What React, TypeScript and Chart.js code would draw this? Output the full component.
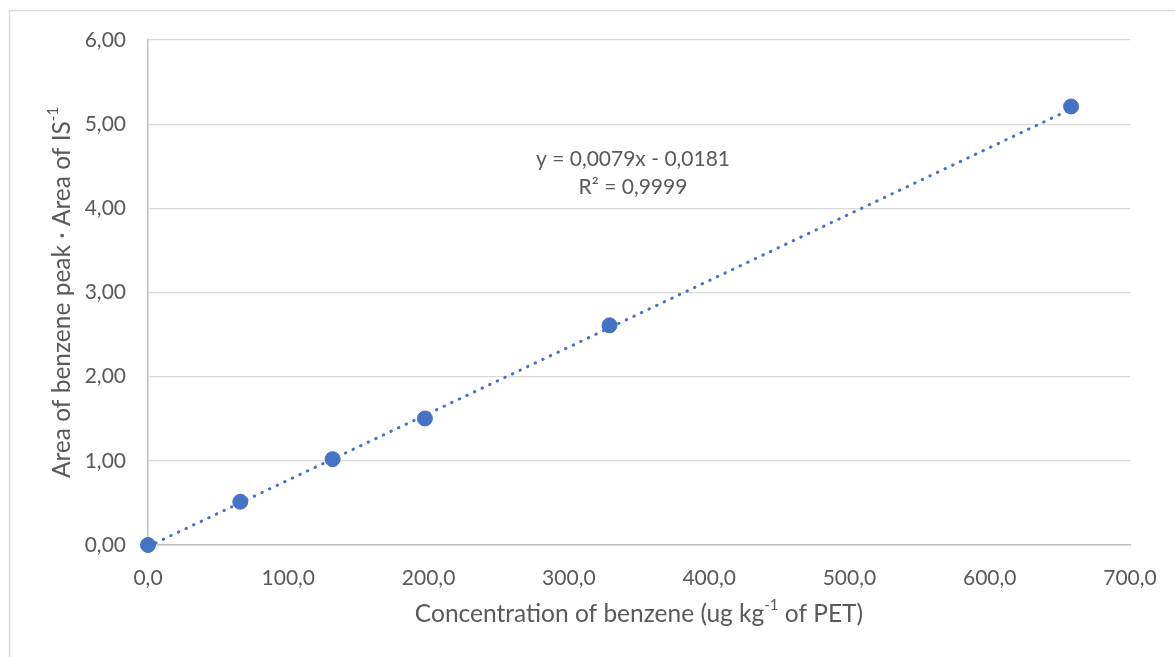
import React, { useEffect, useRef } from "react";
import { Chart, registerables } from "chart.js";

Chart.register(...registerables);

// Data
const concentrations = [0, 65.8, 131.6, 197.4, 329.0, 658.0];
const areaRatios = [0, 0.514, 1.02, 1.503, 2.61, 5.21];
const trendSlope = 0.0079;
const trendIntercept = -0.0181;
const trendRange = [0, 658.0];
const equationLines = ["y = 0,0079x - 0,0181", "R² = 0,9999"];
const xTitleMain = "Concentration of benzene (ug kg";
const xTitleSup = "-1";
const xTitleEnd = " of PET)";
const yTitleMain = "Area of benzene peak · Area of IS";
const yTitleSup = "-1";

const FONT = "Lato, 'Open Sans', sans-serif";
const TEXT = "#595959";
const BLUE = "#4472C4";

export default function App() {
  const ref = useRef<HTMLCanvasElement | null>(null);

  useEffect(() => {
    document.body.style.margin = "0";
    const canvas = ref.current!;
    const decor = {
      id: "decor",
      beforeDraw(chart: any) {
        const ctx = chart.ctx;
        ctx.save();
        ctx.strokeStyle = "#D9D9D9";
        ctx.lineWidth = 1.5;
        ctx.strokeRect(9.5, 10.5, 3000, 3000);
        ctx.restore();
      },
      afterDraw(chart: any) {
        const ctx = chart.ctx;
        const ca = chart.chartArea;
        ctx.save();
        ctx.fillStyle = TEXT;
        const size = 24.5;
        const supSize = 15;
        // X title
        ctx.font = `${size}px ${FONT}`;
        const w1 = ctx.measureText(xTitleMain).width;
        const w3 = ctx.measureText(xTitleEnd).width;
        ctx.font = `${supSize}px ${FONT}`;
        const w2 = ctx.measureText(xTitleSup).width;
        const total = w1 + w2 + w3;
        const cx = (ca.left + ca.right) / 2;
        let x = cx - total / 2;
        const y = 614;
        ctx.textBaseline = "middle";
        ctx.textAlign = "left";
        ctx.font = `${size}px ${FONT}`;
        ctx.fillText(xTitleMain, x, y);
        x += w1;
        ctx.font = `${supSize}px ${FONT}`;
        ctx.fillText(xTitleSup, x, y - 9);
        x += w2;
        ctx.font = `${size}px ${FONT}`;
        ctx.fillText(xTitleEnd, x, y);

        // Y title
        ctx.font = `${size}px ${FONT}`;
        const v1 = ctx.measureText(yTitleMain).width;
        ctx.font = `${supSize}px ${FONT}`;
        const v2 = ctx.measureText(yTitleSup).width;
        ctx.translate(62, (ca.top + ca.bottom) / 2);
        ctx.rotate(-Math.PI / 2);
        let yx = -(v1 + v2) / 2;
        ctx.font = `${size}px ${FONT}`;
        ctx.fillText(yTitleMain, yx, 0);
        yx += v1;
        ctx.font = `${supSize}px ${FONT}`;
        ctx.fillText(yTitleSup, yx, -9);
        ctx.restore();

        // Equation
        ctx.save();
        ctx.fillStyle = TEXT;
        ctx.font = `21px ${FONT}`;
        ctx.textAlign = "center";
        ctx.textBaseline = "middle";
        ctx.fillText(equationLines[0], 633, 159);
        ctx.fillText(equationLines[1], 633, 187);
        ctx.restore();
      },
    };

    const chart = new Chart(canvas, {
      type: "scatter",
      data: {
        datasets: [
          {
            type: "scatter",
            label: "Benzene",
            data: concentrations.map((c, i) => ({ x: c, y: areaRatios[i] })),
            backgroundColor: BLUE,
            borderColor: BLUE,
            pointRadius: 7.5,
            pointHoverRadius: 7.5,
            clip: false,
            order: 1,
          },
          {
            type: "line",
            label: "Trend",
            data: trendRange.map((c) => ({ x: c, y: trendSlope * c + trendIntercept })),
            borderColor: BLUE,
            borderWidth: 3,
            borderDash: [0.5, 7.9],
            borderCapStyle: "round",
            pointRadius: 0,
            fill: false,
            clip: false,
            order: 2,
          } as any,
        ],
      },
      plugins: [decor],
      options: {
        animation: false,
        responsive: false,
        maintainAspectRatio: false,
        layout: { padding: { top: 40, right: 45, left: 0, bottom: 0 } },
        plugins: { legend: { display: false }, tooltip: { enabled: false } },
        scales: {
          x: {
            type: "linear",
            min: 0,
            max: 700,
            afterFit: (s: any) => { s.height = 112; s.paddingRight = 0; s.paddingLeft = 0; },
            ticks: {
              stepSize: 100,
              padding: 21,
              color: TEXT,
              font: { family: FONT, size: 21 },
              callback: (v: any) => Number(v).toFixed(1).replace(".", ","),
            },
            grid: { display: false, drawTicks: false },
            border: { color: "#BFBFBF", width: 1.5 },
          },
          y: {
            type: "linear",
            min: 0,
            max: 6,
            afterFit: (s: any) => { s.width = 148; s.paddingTop = 0; s.paddingBottom = 0; },
            ticks: {
              stepSize: 1,
              padding: 22,
              color: TEXT,
              font: { family: FONT, size: 21 },
              callback: (v: any) => Number(v).toFixed(2).replace(".", ","),
            },
            grid: { color: "#D9D9D9", lineWidth: 1.3, drawTicks: false },
            border: { color: "#BFBFBF", width: 1.5 },
          },
        },
      } as any,
    });
    return () => chart.destroy();
  }, []);

  return <canvas ref={ref} width={1175} height={657} style={{ display: "block" }} />;
}
